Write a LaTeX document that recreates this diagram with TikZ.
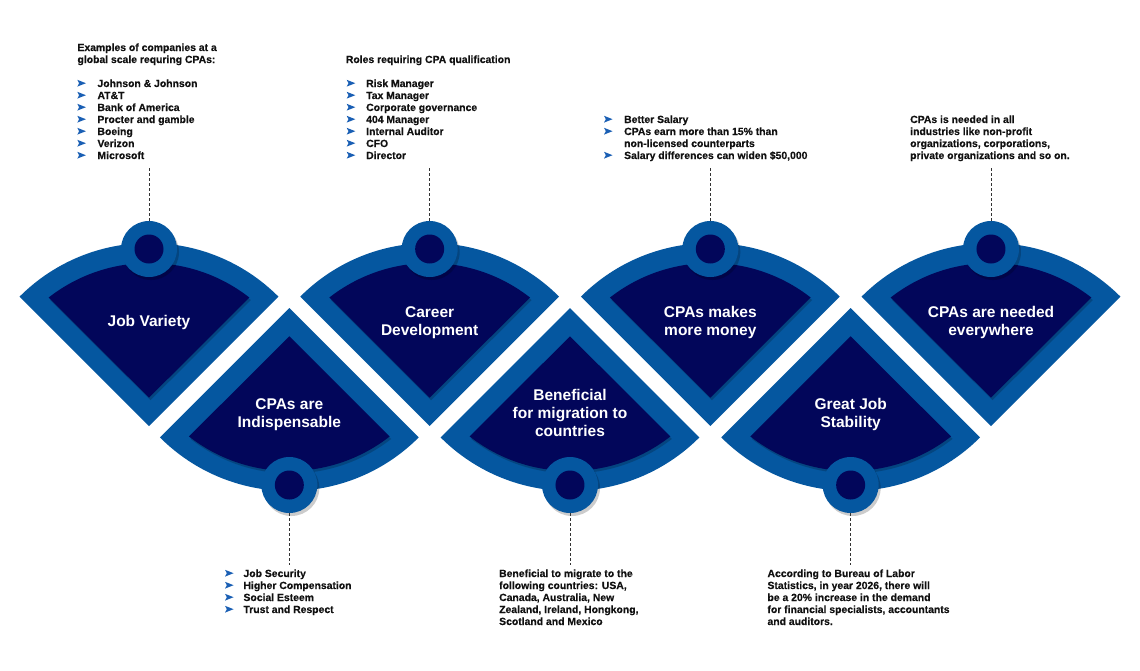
\documentclass[tikz,border=0pt]{standalone}
\usepackage{fontspec}
\setmainfont{Liberation Sans}
\newfontfamily\heavyfont{Liberation Sans Bold}[FakeBold=0.35]
\usetikzlibrary{calc}
\definecolor{bandblue}{HTML}{0557A0}
\definecolor{navy}{HTML}{02065A}
\definecolor{arrowblue}{HTML}{1A5FB4}
\definecolor{txtc}{HTML}{111111}
\begin{document}
\begin{tikzpicture}[x=1pt,y=1pt,yscale=-1,
  sm/.style={font=\fontsize{10.4}{12}\heavyfont, text=txtc, inner sep=0pt, anchor=base west},
  lab/.style={font=\fontsize{15.5}{18}\selectfont\bfseries, text=white, align=center, inner sep=0pt},
  hub/.style={circle, fill=bandblue, minimum size=56pt, inner sep=0pt},
  dashline/.style={draw=black!80, line width=0.8pt, dash pattern=on 3pt off 2pt},
  bul/.style={fill=arrowblue},
  shade/.style={fill=black, opacity=0.2}]
\useasboundingbox (0,0) rectangle (1140,670);

% upper fans
\foreach \k in {0,2,4,6} {
  \pgfmathsetmacro\cx{149+140.33*\k}
  \fill[bandblue] (\cx,426) -- ++(225:183) arc[start angle=225,end angle=315,radius=183] -- cycle;
  \fill[shade] (\cx+1.5,400.2) -- ($(\cx+1.5,428.5)+(232:163)$) arc[start angle=232,end angle=308,radius=163] -- cycle;
  \fill[navy] (\cx,397.7) -- ($(\cx,426)+(232:163)$) arc[start angle=232,end angle=308,radius=163] -- cycle;
  \fill[shade] (\cx+2,252) circle[radius=28];
  \node[hub] (c\k) at (\cx,249) {};
  \fill[navy] (c\k) circle[radius=14.5];
  \coordinate (d\k) at (\cx,166);
  \draw[dashline] (c\k.north) -- (d\k);
}
% lower fans
\foreach \k in {1,3,5} {
  \pgfmathsetmacro\cx{149+140.33*\k}
  \fill[bandblue] (\cx,308) -- ++(135:183) arc[start angle=135,end angle=45,radius=183] -- cycle;
  \fill[shade] (\cx+1.5,338.8) -- ($(\cx+1.5,310.5)+(128:163)$) arc[start angle=128,end angle=52,radius=163] -- cycle;
  \fill[navy] (\cx,336.3) -- ($(\cx,308)+(128:163)$) arc[start angle=128,end angle=52,radius=163] -- cycle;
  \fill[shade] (\cx+2,488) circle[radius=28];
  \node[hub] (c\k) at (\cx,485) {};
  \fill[navy] (c\k) circle[radius=14.5];
  \coordinate (d\k) at (\cx,565);
  \draw[dashline] (c\k.south) -- (d\k);
}

% fan labels
\node[lab] (l0) at (149,322.5) {Job Variety};
\node[lab] (l1) at (289.3,414.3) {CPAs are\\Indispensable};
\node[lab] (l2) at (429.7,322.3) {Career\\Development};
\node[lab] (l3) at (570,413.3) {Beneficial\\for migration to\\countries};
\node[lab] (l4) at (710.3,322.3) {CPAs makes\\more money};
\node[lab] (l5) at (850.7,414.3) {Great Job\\Stability};
\node[lab] (l6) at (991,322.3) {CPAs are needed\\everywhere};

% block 0
\node[sm] (h0a) at (77.3,51) {Examples of companies at a};
\node[sm] (h0b) at (77.3,63) {global scale requring CPAs:};
\foreach \t [count=\i from 0] in {Johnson \& Johnson, AT\&T, Bank of America, Procter and gamble, Boeing, Verizon, Microsoft} {
  \node[sm] (a0-\i) at (97.3,87+12*\i) {\t};
  \fill[bul] (77.3,79.8+12*\i) -- ++(8.6,3.4) -- ++(-8.6,3.4) -- ++(1.8,-3.4) -- cycle;
}
% block 2
\node[sm] (h2a) at (345.7,63) {Roles requiring CPA qualification};
\foreach \t [count=\i from 0] in {Risk Manager, Tax Manager, Corporate governance, 404 Manager, Internal Auditor, CFO, Director} {
  \node[sm] (a2-\i) at (366,87+12*\i) {\t};
  \fill[bul] (346.7,79.8+12*\i) -- ++(8.6,3.4) -- ++(-8.6,3.4) -- ++(1.8,-3.4) -- cycle;
}
% block 4
\node[sm] (a4-0) at (624,123) {Better Salary};
\node[sm] (a4-1) at (624,135) {CPAs earn more than 15\% than};
\node[sm] (a4-2) at (624,147) {non-licensed counterparts};
\node[sm] (a4-3) at (624,159) {Salary differences can widen \$50,000};
\foreach \yy in {115.8,127.8,151.8}
  \fill[bul] (604,\yy) -- ++(8.6,3.4) -- ++(-8.6,3.4) -- ++(1.8,-3.4) -- cycle;
% block 6
\foreach \t [count=\i from 0] in {CPAs is needed in all, industries like non-profit, {organizations, corporations,}, private organizations and so on.}
  \node[sm] (a6-\i) at (910,123+12*\i) {\t};
% block 1
\foreach \t [count=\i from 0] in {Job Security, Higher Compensation, Social Esteem, Trust and Respect} {
  \node[sm] (a1-\i) at (243.3,577+12*\i) {\t};
  \fill[bul] (225,569.8+12*\i) -- ++(8.6,3.4) -- ++(-8.6,3.4) -- ++(1.8,-3.4) -- cycle;
}
% block 3
\foreach \t [count=\i from 0] in {Beneficial to migrate to the, {following countries: USA,}, {Canada, Australia, New}, {Zealand, Ireland, Hongkong,}, Scotland and Mexico}
  \node[sm] (a3-\i) at (499,577+12*\i) {\t};
% block 5
\foreach \t [count=\i from 0] in {According to Bureau of Labor, {Statistics, in year 2026, there will}, be a 20\% increase in the demand, {for financial specialists, accountants}, and auditors.}
  \node[sm] (a5-\i) at (767.3,577+12*\i) {\t};
\end{tikzpicture}
\end{document}
